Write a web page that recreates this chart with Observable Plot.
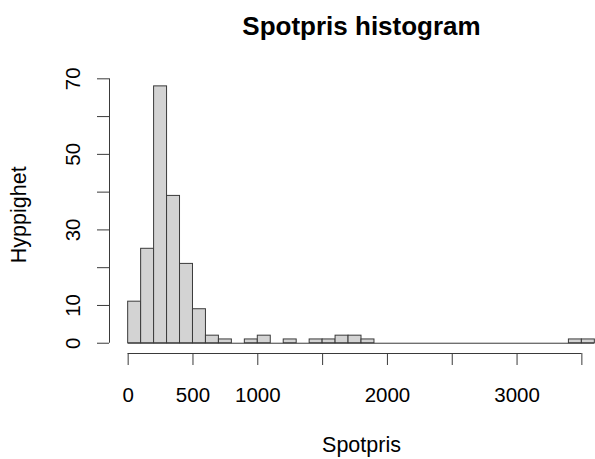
<!DOCTYPE html>
<html><head><meta charset="utf-8">
<script src="https://cdn.jsdelivr.net/npm/d3@7"></script>
<script src="https://cdn.jsdelivr.net/npm/@observablehq/plot@0.6"></script>
<style>body{margin:0;background:#fff}#chart svg{display:block}</style>
</head><body><div id="chart"></div>
<script>
// Data (bin width 100)
const binStarts = [0,100,200,300,400,500,600,700,800,900,1000,1100,1200,1300,1400,1500,1600,1700,1800,1900,2000,2100,2200,2300,2400,2500,2600,2700,2800,2900,3000,3100,3200,3300,3400,3500];
const counts    = [11,25,68,39,21,9,2,1,0,1,2,0,1,0,1,1,2,2,1,0,0,0,0,0,0,0,0,0,0,0,0,0,0,0,1,1];
const binWidth = 100;
const xTicks = [0,500,1000,1500,2000,2500,3000,3500];
const xTickLabels = [0,500,1000,2000,3000];
const yTicks = [0,10,20,30,40,50,60,70];
const yTickLabels = [0,10,30,50,70];
const titleText = "Spotpris histogram";
const xLabelText = "Spotpris";
const yLabelText = "Hyppighet";

const bins = binStarts.map((s, i) => ({x1: s, x2: s + binWidth, count: counts[i]}));
const xMin = binStarts[0], xMax = binStarts[binStarts.length - 1] + binWidth;
const yMax = d3.max(counts);
// R-style 4% axis expansion
const xLo = xMin - 0.04 * (xMax - xMin);
const xHiR = xMax + 0.04 * (xMax - xMin);
const yLo = -0.04 * yMax, yHi = yMax * 1.04;
const W = 595, H = 459, mL = 109;
const pxPerUnit = (613 - mL) / (xHiR - xLo);
const xRight = xLo + (W - mL) / pxPerUnit;
const xMid = (xMin + xMax) / 2;
const yMid = (yLo + yHi) / 2;
const ink = "#3a3a3a";

const chart = Plot.plot({
  width: W, height: H,
  marginLeft: mL, marginRight: 0, marginTop: 75.6, marginBottom: 106,
  style: {fontFamily: "'Liberation Sans', Arial, sans-serif", fontSize: "20.5px", color: "#000", background: "#fff"},
  x: {domain: [xLo, xRight]},
  y: {domain: [yLo, yHi]},
  marks: [
    Plot.ruleY([{y: 0, a: xMin, b: xMax}], {y: "y", x1: "a", x2: "b", stroke: ink, strokeWidth: 1}),
    Plot.rectY(bins.filter(d => d.count > 0), {x1: "x1", x2: "x2", y1: 0, y2: "count", fill: "#d3d3d3", stroke: ink, strokeWidth: 1}),
    // axes
    Plot.ruleY([{y: yLo, a: xTicks[0], b: xTicks[xTicks.length-1]}], {y: "y", x1: "a", x2: "b", stroke: ink, strokeWidth: 1}),
    Plot.ruleX([{x: xLo, a: yTicks[0], b: yTicks[yTicks.length-1]}], {x: "x", y1: "a", y2: "b", stroke: ink, strokeWidth: 1}),
    Plot.axisX({ticks: xTicks, tickSize: 12, tickPadding: 22, stroke: ink, fill: "#000", label: null,
      tickFormat: d => xTickLabels.includes(d) ? String(d) : ""}),
    Plot.axisY({ticks: yTicks, tickSize: 12, stroke: ink, label: null, tickFormat: () => ""}),
    Plot.text(yTickLabels, {y: d => d, text: d => String(d), frameAnchor: "left", dx: -36, rotate: -90,
      textAnchor: "middle", lineAnchor: "middle", fill: "#000"}),
    // titles
    Plot.text([titleText], {x: () => xMid, text: d => d, frameAnchor: "top", dy: -49, textAnchor: "middle", lineAnchor: "middle",
      fontWeight: "bold", fontSize: 26, fill: "#000"}),
    Plot.text([xLabelText], {x: () => xMid, text: d => d, frameAnchor: "bottom", dy: 92, textAnchor: "middle", lineAnchor: "middle",
      fontSize: 21.5, fill: "#000"}),
    Plot.text([yLabelText], {y: () => yMid, text: d => d, frameAnchor: "left", dx: -90, rotate: -90, textAnchor: "middle", lineAnchor: "middle",
      fontSize: 21.5, fill: "#000"})
  ]
});
document.getElementById("chart").append(chart);
</script>
</body></html>
